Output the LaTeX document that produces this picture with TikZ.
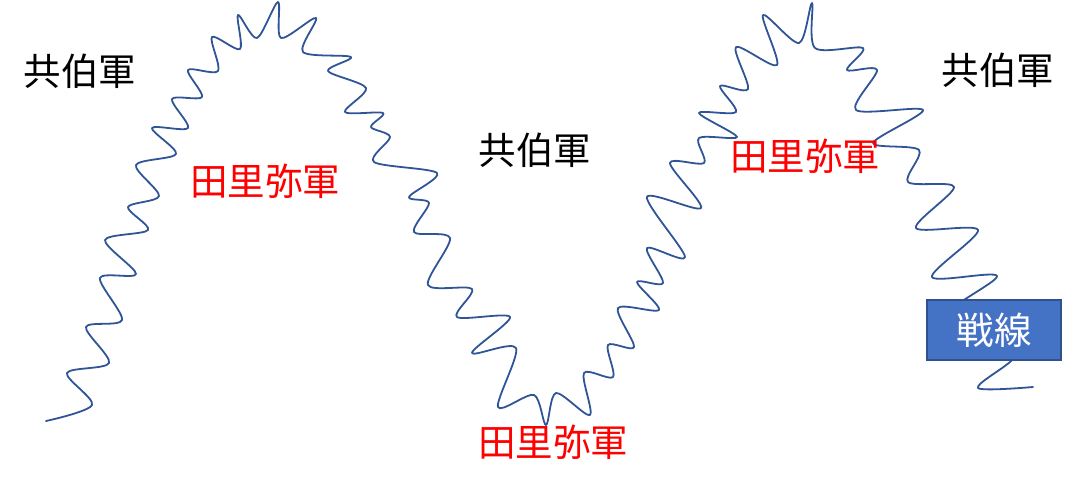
\documentclass[tikz,border=0pt]{standalone}
\usepackage{fontspec}
\newfontfamily\jp{Noto Sans CJK JP}
\definecolor{wavecol}{HTML}{2F5597}
\definecolor{boxfill}{HTML}{4472C4}
\definecolor{boxline}{HTML}{2F528F}
\definecolor{redtxt}{HTML}{FF0000}
\tikzset{
  wave/.style={draw=wavecol, line width=1.8bp, line join=round, line cap=round},
  kyo/.style={inner sep=0pt, font=\jp\fontsize{37.5bp}{40bp}\selectfont, text=black},
  tari/.style={inner sep=0pt, font=\jp\fontsize{37.5bp}{40bp}\selectfont, text=redtxt},
  sen/.style={draw=boxline, fill=boxfill, line width=1.5bp, minimum width=134bp, minimum height=60bp, inner sep=0pt, font=\jp\fontsize{37.5bp}{40bp}\selectfont, text=white}
}
\begin{document}
\begin{tikzpicture}[x=1bp,y=-1bp]
\useasboundingbox (0,0) rectangle (1077,490);
\draw[wave] plot[smooth, tension=0.5] coordinates {
(46,421) (92,405) (67,373) (109,363) (86,327) (122,320) (100,278) (136,274) (105,240) (148,230) (128,207) (159,196) (136,165) (176,154) (152,128) (188,128) (172,99) (202,97) (188,70) (218,71) (212,37) (240,49) (238,15) (257,38) (278,2) (281,38) (316,18) (303,52) (351,57) (328,71) (366,88) (345,112) (383,113) (371,127) (390,137) (374,162) (437,173) (409,197) (429,203) (414,232) (450,238) (428,285) (472,289) (457,317) (510,317) (472,353) (516,348) (498,407) (534,395) (546,425) (556,393) (590,415) (584,373) (613,377) (608,345) (634,347) (618,308) (659,310) (637,282) (663,283) (647,248) (685,257) (647,197) (701,208) (670,163) (704,163) (699,138) (737,137) (699,113) (736,112) (720,86) (748,89) (736,47) (777,65) (763,15) (799,43) (812,3) (815,48) (863,48) (847,70) (877,70) (856,110) (923,110) (873,143) (919,150) (908,182) (954,187) (916,228) (978,230) (932,277) (997,276) (945,318) (1030,335) (1011,361) (978,388) (1033,387)};
\node[kyo] (k1) at (80,71) {共伯軍};
\node[kyo] (k2) at (535,150) {共伯軍};
\node[kyo] (k3) at (998,70) {共伯軍};
\node[tari] (t1) at (265,181) {田里弥軍};
\node[tari] (t2) at (805,156) {田里弥軍};
\node[tari] (t3) at (553,442) {田里弥軍};
\node[sen] (front) at (994,330) {戦線};
\end{tikzpicture}
\end{document}
